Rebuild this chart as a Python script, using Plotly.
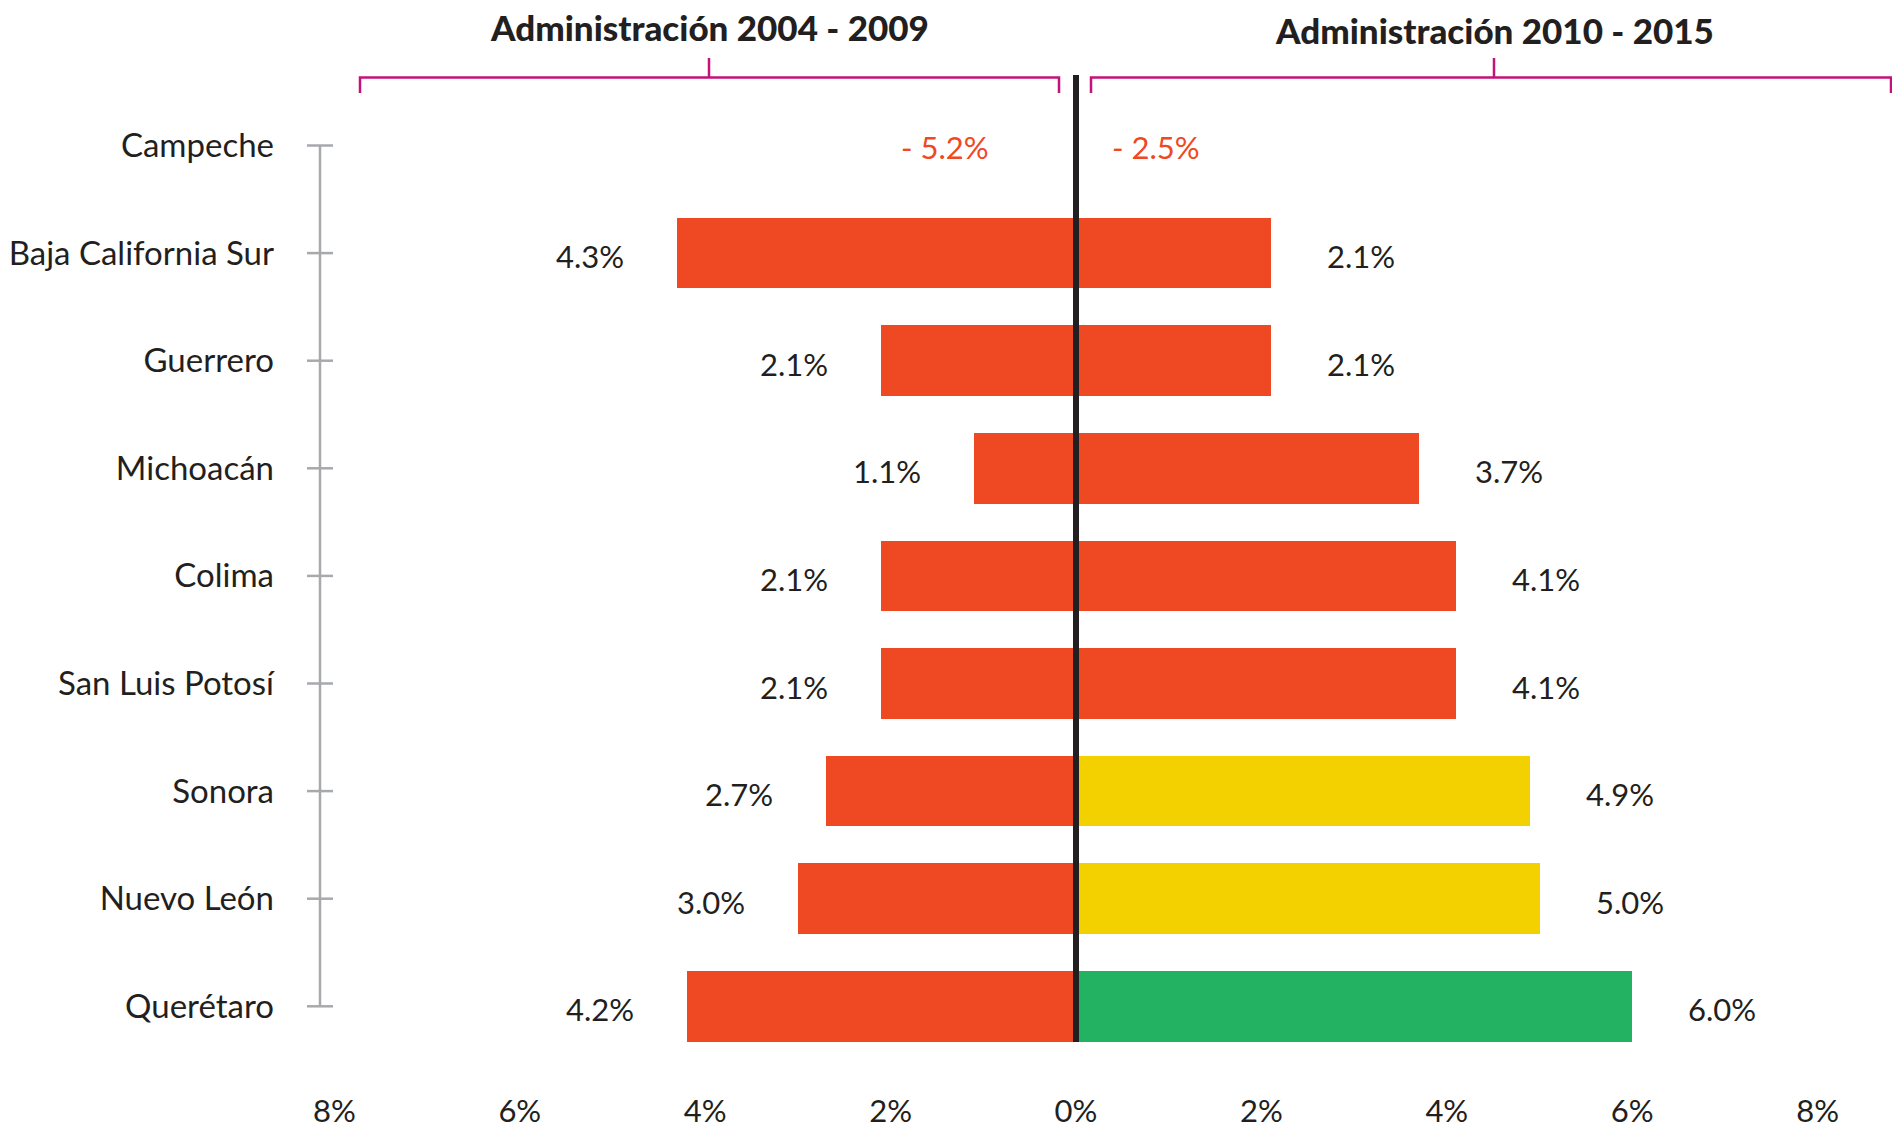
import plotly.graph_objects as go

# ---------------- data ----------------
states = ["Campeche", "Baja California Sur", "Guerrero", "Michoacán", "Colima",
          "San Luis Potosí", "Sonora", "Nuevo León", "Querétaro"]
adm_2004_2009 = [-5.2, 4.3, 2.1, 1.1, 2.1, 2.1, 2.7, 3.0, 4.2]
adm_2010_2015 = [-2.5, 2.1, 2.1, 3.7, 4.1, 4.1, 4.9, 5.0, 6.0]
colors_2010_2015 = ["#EF4923", "#EF4923", "#EF4923", "#EF4923", "#EF4923",
                    "#EF4923", "#F3D000", "#F3D000", "#23B262"]
tick_values = [-8, -6, -4, -2, 0, 2, 4, 6, 8]
tick_labels = ["8%", "6%", "4%", "2%", "0%", "2%", "4%", "6%", "8%"]
header_left = "Administración 2004 - 2009"
header_right = "Administración 2010 - 2015"

# ---------------- styling ----------------
OFF = 8                      # page body margin
W, H = 1884, 1116            # figure size (fits page with body margin)
MB = 57
PH = H - MB
ORANGE = "#EF4923"
DARK = "#231F20"
MAGENTA = "#C4127A"
GRAY = "#A7A9AC"
FONT = "Lato, 'Open Sans', sans-serif"

X0_PX = 1076.0 - OFF   # figure pixel of 0%
UNIT_PX = 92.7         # pixels per 1%
xmin = -X0_PX / UNIT_PX
xmax = (W - X0_PX) / UNIT_PX

Y0_PX = 145.5 - OFF    # figure pixel of first category
ROW_PX = 107.6         # pixels per category
ytop = -Y0_PX / ROW_PX
ybot = (PH - Y0_PX) / ROW_PX


def py(p):
    """page pixel y -> paper y"""
    return 1 - (p - OFF) / PH


def pxp(p):
    """page pixel x -> paper x"""
    return (p - OFF) / W


left_x = [-v if v > 0 else None for v in adm_2004_2009]
right_x = [v if v > 0 else None for v in adm_2010_2015]

fig = go.Figure()
fig.add_trace(go.Bar(y=states, x=left_x, orientation="h", width=0.655,
                     marker=dict(color=ORANGE, line=dict(width=0)),
                     hoverinfo="skip", showlegend=False))
fig.add_trace(go.Bar(y=states, x=right_x, orientation="h", width=0.655,
                     marker=dict(color=colors_2010_2015, line=dict(width=0)),
                     hoverinfo="skip", showlegend=False))

annotations = []
for s, v in zip(states, adm_2004_2009):
    if v > 0:
        annotations.append(dict(x=-v, y=s, xref="x", yref="y", text=f"{v:.1f}%",
                                showarrow=False, xanchor="right", xshift=-51, yshift=-3,
                                font=dict(family=FONT, size=31, color=DARK)))
    else:
        annotations.append(dict(x=0, y=s, xref="x", yref="y", text=f"- {abs(v):.1f}%",
                                showarrow=False, xanchor="right", xshift=-85, yshift=-1,
                                font=dict(family=FONT, size=31, color=ORANGE)))
for s, v in zip(states, adm_2010_2015):
    if v > 0:
        annotations.append(dict(x=v, y=s, xref="x", yref="y", text=f"{v:.1f}%",
                                showarrow=False, xanchor="left", xshift=54, yshift=-3,
                                font=dict(family=FONT, size=31, color=DARK)))
    else:
        annotations.append(dict(x=0, y=s, xref="x", yref="y", text=f"- {abs(v):.1f}%",
                                showarrow=False, xanchor="left", xshift=34, yshift=-1,
                                font=dict(family=FONT, size=31, color=ORANGE)))

annotations.append(dict(x=pxp(709), y=py(27), xref="paper", yref="paper", text=header_left,
                        showarrow=False, xanchor="center", yanchor="middle",
                        font=dict(family=FONT, size=35, color=DARK, weight=900)))
annotations.append(dict(x=pxp(1494), y=py(30), xref="paper", yref="paper", text=header_right,
                        showarrow=False, xanchor="center", yanchor="middle",
                        font=dict(family=FONT, size=35, color=DARK, weight=900)))

shapes = []
# brackets
for x_l, x_r, x_c in [(360, 1059, 709), (1091, 1891, 1494)]:
    shapes.append(dict(type="path", xref="paper", yref="paper",
                       path=(f"M {pxp(x_l)},{py(93)} L {pxp(x_l)},{py(77.5)} "
                             f"L {pxp(x_r)},{py(77.5)} L {pxp(x_r)},{py(93)}"),
                       line=dict(color=MAGENTA, width=2.5)))
    shapes.append(dict(type="line", xref="paper", yref="paper",
                       x0=pxp(x_c), x1=pxp(x_c), y0=py(58), y1=py(77.5),
                       line=dict(color=MAGENTA, width=2.5)))
# centre line
shapes.append(dict(type="line", xref="x", yref="paper", x0=0, x1=0,
                   y0=py(75), y1=py(1042), line=dict(color=DARK, width=6), layer="above"))
# gray category axis
AX = 320
shapes.append(dict(type="line", xref="paper", yref="y", x0=pxp(AX), x1=pxp(AX),
                   y0=0, y1=len(states) - 1, line=dict(color=GRAY, width=2.5)))
for i in range(len(states)):
    shapes.append(dict(type="line", xref="paper", yref="y", x0=pxp(AX - 13), x1=pxp(AX + 13),
                       y0=i, y1=i, line=dict(color=GRAY, width=2.5)))

fig.update_layout(
    width=W, height=H,
    margin=dict(l=0, r=0, t=0, b=MB, pad=0, autoexpand=False),
    paper_bgcolor="white", plot_bgcolor="white",
    barmode="overlay", bargap=0,
    annotations=annotations, shapes=shapes,
    xaxis=dict(range=[xmin, xmax], tickvals=tick_values, ticktext=tick_labels,
               showgrid=False, zeroline=False, showline=False, ticks="",
               ticklabelstandoff=23, automargin=False,
               tickfont=dict(family=FONT, size=31, color=DARK), fixedrange=True),
    yaxis=dict(type="category", categoryorder="array", categoryarray=states,
               range=[ybot, ytop], showgrid=False, zeroline=False, showline=False,
               ticks="", anchor="free", position=pxp(AX), ticklabelstandoff=46,
               automargin=False,
               tickfont=dict(family=FONT, size=33, color=DARK), fixedrange=True),
)

fig.write_html("out.html")
